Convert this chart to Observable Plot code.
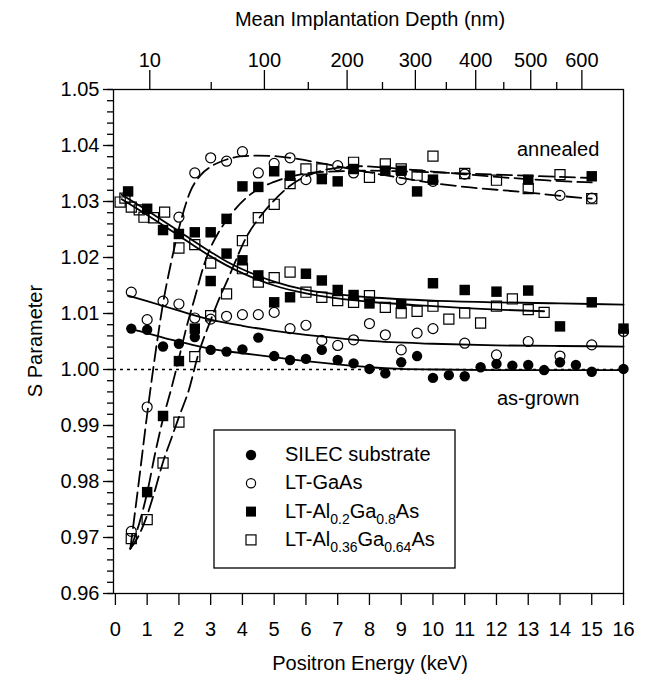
<!DOCTYPE html>
<html><head><meta charset="utf-8">
<script src="https://cdn.jsdelivr.net/npm/d3@7"></script>
<script src="https://cdn.jsdelivr.net/npm/@observablehq/plot@0.6"></script>
<style>
body{margin:0;background:#fff;}
#wrap{position:relative;width:650px;height:679px;font-family:"Liberation Sans",Arial,sans-serif;}
#wrap > svg{position:absolute;left:0;top:0;}
</style></head><body><div id="wrap"></div>
<script>
// ---------- axes / tick values ----------
const xTicks = [0,1,2,3,4,5,6,7,8,9,10,11,12,13,14,15,16];
const yTicks = [0.96,0.97,0.98,0.99,1.00,1.01,1.02,1.03,1.04,1.05];
const yMinorTicks = d3.range(480, 526).map(d => d / 500);
const depthMajor = [10,100,200,300,400,500,600];
const depthMinor = [50,150,250,350,450,550];
const depthCoef = 8.83, depthExp = 1.57; // mean depth (nm) = coef * E^exp
const toEnergy = d => Math.pow(d / depthCoef, 1 / depthExp);

// ---------- measured points ----------
const substrateE = [0.5,1,1.5,2,2.5,3,3.5,4,4.5,5,5.5,6,6.5,7,7.5,8,8.5,9,9.5,10,10.5,11,11.5,12,12.5,13,13.5,14,14.5,15,16];
const substrateS = [1.0073,1.0071,1.0041,1.0046,1.0058,1.0035,1.0032,1.0036,1.0057,1.0024,1.0017,1.0019,1.0035,1.0017,1.0011,1.0001,0.9993,1.0013,1.0024,0.9985,0.9990,0.9988,1.0004,1.0010,1.0007,1.0008,0.9999,1.0013,1.0008,0.9996,1.0001];

const gaasE = [0.5,1,1.5,2,2.5,3,3.5,4,4.5,5,5.5,6,6.5,7,7.5,8,8.5,9,9.5,10,11,12,13,14,15,16];
const gaasS = [1.0138,1.0089,1.0122,1.0117,1.0092,1.0090,1.0095,1.0098,1.0098,1.0102,1.0073,1.0079,1.0052,1.0043,1.0053,1.0082,1.0062,1.0035,1.0065,1.0073,1.0047,1.0026,1.0050,1.0024,1.0044,1.0068];

const al02E = [0.4,1,1.5,2,2.5,3,3.5,4,4.5,5,5.5,6,6.5,7,7.5,8,9,10,11,12,13,14,15,16];
const al02S = [1.0318,1.0287,1.0249,1.0242,1.0245,1.0245,1.0207,1.0195,1.0168,1.0120,1.0129,1.0171,1.0159,1.0142,1.0133,1.0118,1.0117,1.0154,1.0142,1.0139,1.0141,1.0077,1.0120,1.0073];

const al036E = [0.15,0.3,0.5,0.75,0.9,1.2,1.55,2,2.5,3,4,4.5,5,5.5,6,6.5,7,7.5,8,8.5,9,9.5,10,10.5,11,11.5,12,12.5,13,13.5];
const al036S = [1.0299,1.0306,1.0290,1.0285,1.0272,1.0271,1.0281,1.0217,1.0223,1.0190,1.0180,1.0156,1.0164,1.0174,1.0138,1.0129,1.0123,1.0120,1.0132,1.0111,1.0101,1.0104,1.0113,1.0090,1.0101,1.0083,1.0113,1.0126,1.0107,1.0102];

const gaasAnnE = [0.5,1,2,2.5,3,3.5,4,4.5,5,5.5,6,7,7.5,9,10,11,14,15];
const gaasAnnS = [0.9711,0.9933,1.0272,1.0351,1.0378,1.0372,1.0389,1.0351,1.0368,1.0378,1.0339,1.0364,1.0351,1.0339,1.0336,1.0349,1.0311,1.0306];

const al02AnnE = [1,1.5,2,2.5,3,3.5,4,4.5,5,5.5,6.5,7,7.5,8.5,9,9.5,10,13,15];
const al02AnnS = [0.9781,0.9917,1.0015,1.0073,1.0158,1.0269,1.0327,1.0326,1.0354,1.0346,1.0340,1.0336,1.0358,1.0355,1.0355,1.0318,1.0339,1.0339,1.0345];

const al036AnnE = [0.5,1,1.5,2,2.5,3,3.5,4,4.5,5,5.5,6,6.5,7.5,8,8.5,9,9.5,10,11,12,13,14,15];
const al036AnnS = [0.9698,0.9732,0.9833,0.9906,1.0023,1.0096,1.0135,1.0230,1.0271,1.0295,1.0332,1.0358,1.0358,1.0370,1.0343,1.0367,1.0358,1.0347,1.0381,1.0350,1.0338,1.0323,1.0348,1.0305];

// ---------- fitted curves ----------
const substrateFitE = [0.5,1,1.5,2,3,4,5,6,7,8,9,10,12,14,16];
const substrateFitS = [1.0072,1.0065,1.0057,1.0050,1.0037,1.0029,1.0022,1.0015,1.0009,1.0004,1.0001,1.0000,0.9999,0.9999,0.9999];
const gaasFitE = [0.4,1,2,3,4,5,6,7,8,10,12,14,16];
const gaasFitS = [1.0132,1.0122,1.0105,1.0089,1.0078,1.0069,1.0062,1.0056,1.0051,1.0046,1.0043,1.0042,1.0041];
const al02FitE = [0.2,1,2,3,3.5,4,4.5,5,6,7,8,10,12,14,16];
const al02FitS = [1.0312,1.0284,1.0247,1.0210,1.0193,1.0179,1.0167,1.0157,1.0142,1.0134,1.0129,1.0123,1.0120,1.0118,1.0116];
const al036FitE = [0.2,1,2,3,3.5,4,4.5,5,6,7,8,10,12,13.5];
const al036FitS = [1.0304,1.0276,1.0239,1.0202,1.0186,1.0172,1.0160,1.0150,1.0136,1.0127,1.0121,1.0113,1.0107,1.0104];
const gaasAnnFitE = [0.47,0.75,1,1.25,1.5,1.75,2,2.36,2.7,3,3.5,4,4.5,5,5.5,6.5,8,10,11,12,13,14,15];
const gaasAnnFitS = [0.968,0.9805,0.992,1.0025,1.0118,1.019,1.0252,1.0318,1.0348,1.0362,1.0375,1.0381,1.0382,1.0381,1.0378,1.0368,1.0352,1.0333,1.0326,1.0321,1.0316,1.0310,1.0305];
const al02AnnFitE = [0.47,0.75,1,1.25,1.5,1.78,2,2.25,2.5,2.78,3,3.25,3.57,4.09,4.62,5,5.41,6,7,8,10,12,14,15];
const al02AnnFitS = [0.968,0.9725,0.978,0.985,0.9912,0.997,1.002,1.0078,1.0128,1.0185,1.0218,1.0245,1.0272,1.0305,1.0326,1.0335,1.0343,1.0350,1.0354,1.0355,1.0352,1.0348,1.0344,1.0342];
const al036AnnFitE = [0.47,0.75,1,1.25,1.5,1.75,2,2.31,2.6,3,3.2,3.57,4.15,4.6,5,5.5,6,6.5,7,7.7,9,10.5,12,13.5,15];
const al036AnnFitS = [0.968,0.9705,0.974,0.9785,0.9835,0.9875,0.9915,0.9963,1.0025,1.0088,1.0117,1.0165,1.0239,1.0276,1.0302,1.0328,1.0345,1.0355,1.0360,1.0363,1.0358,1.0351,1.0344,1.0338,1.0334];

const pts = (E, S) => E.map((e, i) => ({E: e, S: S[i]}));

const solid = {x: "E", y: "S", stroke: "black", strokeWidth: 1.8, curve: "monotone-x"};
const dashed = {...solid, strokeDasharray: "15,6"};
const filledCircle = {x: "E", y: "S", symbol: "circle", r: 5.2, fill: "black", stroke: "none"};
const openCircle = {x: "E", y: "S", symbol: "circle", r: 5, fill: "none", stroke: "black", strokeWidth: 1.2};
const filledSquare = {x: "E", y: "S", symbol: "square", r: 5.9, fill: "black", stroke: "none"};
const openSquare = {x: "E", y: "S", symbol: "square", r: 5.7, fill: "none", stroke: "black", strokeWidth: 1.2};

const chart = Plot.plot({
  width: 650, height: 679,
  marginLeft: 113, marginRight: 27, marginTop: 89, marginBottom: 86,
  x: {domain: [-0.06, 16]},
  y: {domain: [0.96, 1.05]},
  style: {fontFamily: '"Liberation Sans", Arial, sans-serif', fontSize: "20px", background: "white", color: "black", overflow: "visible"},
  marks: [
    Plot.ruleY([1.0], {stroke: "black", strokeWidth: 1.5, strokeDasharray: "3,4"}),
    Plot.line(pts(substrateFitE, substrateFitS), solid),
    Plot.line(pts(gaasFitE, gaasFitS), solid),
    Plot.line(pts(al02FitE, al02FitS), solid),
    Plot.line(pts(al036FitE, al036FitS), solid),
    Plot.line(pts(gaasAnnFitE, gaasAnnFitS), dashed),
    Plot.line(pts(al02AnnFitE, al02AnnFitS), dashed),
    Plot.line(pts(al036AnnFitE, al036AnnFitS), dashed),
    Plot.dot(pts(gaasE, gaasS), openCircle),
    Plot.dot(pts(gaasAnnE, gaasAnnS), openCircle),
    Plot.dot(pts(al036E, al036S), openSquare),
    Plot.dot(pts(al036AnnE, al036AnnS), openSquare),
    Plot.dot(pts(substrateE, substrateS), filledCircle),
    Plot.dot(pts(al02E, al02S), filledSquare),
    Plot.dot(pts(al02AnnE, al02AnnS), filledSquare),
    Plot.frame({stroke: "black", strokeWidth: 1.3}),
    Plot.axisX({ticks: xTicks, anchor: "bottom", tickSize: 12, tickPadding: 16, tickFormat: d => String(d), label: null, strokeWidth: 1.3}),
    Plot.axisX({ticks: depthMajor.map(toEnergy), anchor: "top", tickSize: 20, tickPadding: 3,
      tickFormat: e => String(Math.round(depthCoef * Math.pow(e, depthExp))), label: null, strokeWidth: 1.3}),
    Plot.axisX({ticks: depthMinor.map(toEnergy), anchor: "top", tickSize: 8, tickFormat: () => "", label: null, strokeWidth: 1.3}),
    Plot.axisY({ticks: yTicks, anchor: "left", tickSize: 10, tickPadding: 4, tickFormat: d3.format(".2f"), label: null, strokeWidth: 1.3}),
    Plot.axisY({ticks: yMinorTicks, anchor: "left", tickSize: 6, tickFormat: () => "", label: null, strokeWidth: 1.3})
  ]
});
const wrap = document.getElementById("wrap");
wrap.appendChild(chart);

// ---------- overlay: titles, annotations, legend ----------
const titles = {top: "Mean Implantation Depth (nm)", bottom: "Positron Energy (keV)", left: "S Parameter"};
const notes = ["annealed", "as-grown"];
const legendItems = [
  {kind: "filledCircle", parts: [["SILEC substrate", 0]]},
  {kind: "openCircle", parts: [["LT-GaAs", 0]]},
  {kind: "filledSquare", parts: [["LT-Al", 0], ["0.2", 1], ["Ga", 0], ["0.8", 1], ["As", 0]]},
  {kind: "openSquare", parts: [["LT-Al", 0], ["0.36", 1], ["Ga", 0], ["0.64", 1], ["As", 0]]}
];

const ov = d3.create("svg").attr("width", 650).attr("height", 679)
  .style("font-family", '"Liberation Sans", Arial, sans-serif').style("font-size", "20px")
  .style("pointer-events", "none");
ov.append("text").attr("x", 370).attr("y", 26).attr("text-anchor", "middle").text(titles.top);
ov.append("text").attr("x", 370).attr("y", 670).attr("text-anchor", "middle").text(titles.bottom);
ov.append("text").attr("transform", "translate(42,341) rotate(-90)").attr("text-anchor", "middle").text(titles.left);
ov.append("text").attr("x", 517).attr("y", 156).text(notes[0]);
ov.append("text").attr("x", 497).attr("y", 405).text(notes[1]);

const lg = ov.append("g");
lg.append("rect").attr("x", 214).attr("y", 430).attr("width", 241).attr("height", 138)
  .attr("fill", "white").attr("stroke", "black").attr("stroke-width", 1.3);
legendItems.forEach((it, i) => {
  const cy = 455 + i * 28.3;
  const sx = 251;
  if (it.kind === "filledCircle") lg.append("circle").attr("cx", sx).attr("cy", cy).attr("r", 5.2).attr("fill", "black");
  if (it.kind === "openCircle") lg.append("circle").attr("cx", sx).attr("cy", cy).attr("r", 4.6).attr("fill", "none").attr("stroke", "black").attr("stroke-width", 1.2);
  if (it.kind === "filledSquare") lg.append("rect").attr("x", sx - 5).attr("y", cy - 5).attr("width", 10).attr("height", 10).attr("fill", "black");
  if (it.kind === "openSquare") lg.append("rect").attr("x", sx - 5).attr("y", cy - 5).attr("width", 10).attr("height", 10).attr("fill", "none").attr("stroke", "black").attr("stroke-width", 1.2);
  const t = lg.append("text").attr("x", 285).attr("y", cy + 6);
  let shifted = false;
  it.parts.forEach(([s, sub]) => {
    const ts = t.append("tspan").text(s);
    if (sub && !shifted) { ts.attr("dy", 6).style("font-size", "14px"); shifted = true; }
    else if (!sub && shifted) { ts.attr("dy", -6); shifted = false; }
  });
});
wrap.appendChild(ov.node());
</script></body></html>
